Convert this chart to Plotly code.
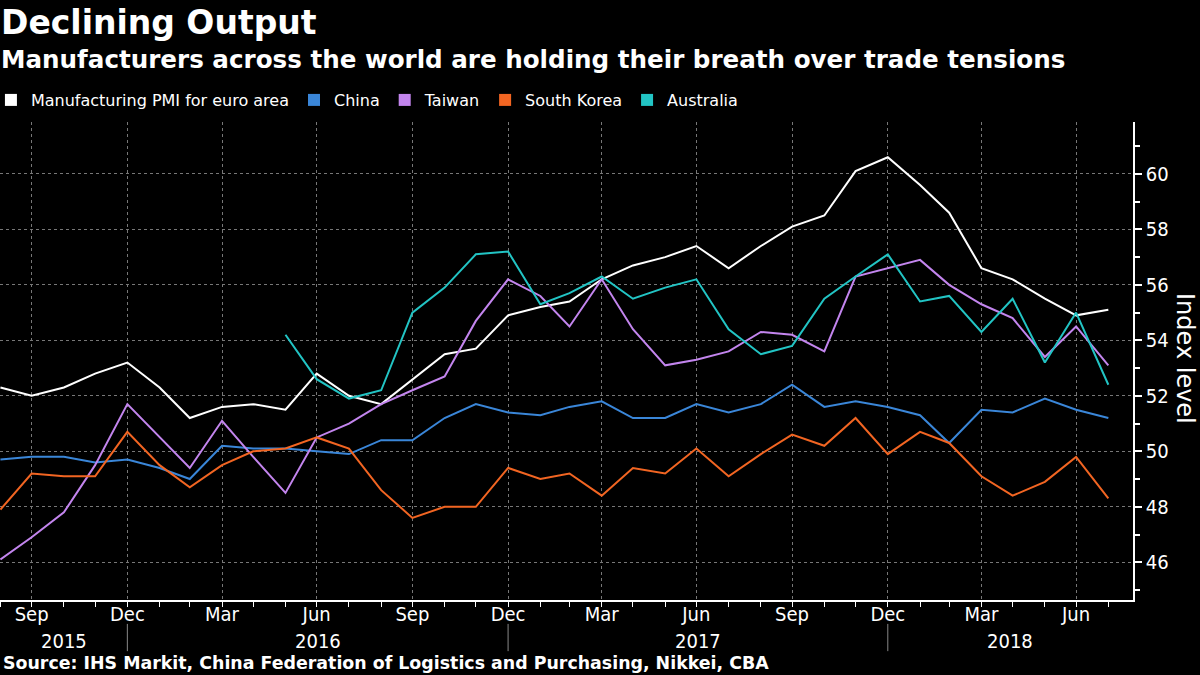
import pandas as pd
import plotly.graph_objects as go

# ---------------- data ----------------
months = pd.date_range("2015-08-31", "2018-07-31", freq="ME")

euro_area = [52.3, 52.0, 52.3, 52.8, 53.2,
             52.3, 51.2, 51.6, 51.7, 51.5, 52.8, 52.0, 51.7, 52.6, 53.5, 53.7, 54.9,
             55.2, 55.4, 56.2, 56.7, 57.0, 57.4, 56.6, 57.4, 58.1, 58.5, 60.1, 60.6,
             59.6, 58.6, 56.6, 56.2, 55.5, 54.9, 55.1]
china = [49.7, 49.8, 49.8, 49.6, 49.7,
         49.4, 49.0, 50.2, 50.1, 50.1, 50.0, 49.9, 50.4, 50.4, 51.2, 51.7, 51.4,
         51.3, 51.6, 51.8, 51.2, 51.2, 51.7, 51.4, 51.7, 52.4, 51.6, 51.8, 51.6,
         51.3, 50.3, 51.5, 51.4, 51.9, 51.5, 51.2]
taiwan = [46.1, 46.9, 47.8, 49.5, 51.7,
          50.5, 49.4, 51.1, 49.8, 48.5, 50.5, 51.0, 51.7, 52.2, 52.7, 54.7, 56.2,
          55.6, 54.5, 56.2, 54.4, 53.1, 53.3, 53.6, 54.3, 54.2, 53.6, 56.3, 56.6,
          56.9, 56.0, 55.3, 54.8, 53.4, 54.5, 53.1]
south_korea = [47.9, 49.2, 49.1, 49.1, 50.7,
               49.5, 48.7, 49.5, 50.0, 50.1, 50.5, 50.1, 48.6, 47.6, 48.0, 48.0, 49.4,
               49.0, 49.2, 48.4, 49.4, 49.2, 50.1, 49.1, 49.9, 50.6, 50.2, 51.2, 49.9,
               50.7, 50.3, 49.1, 48.4, 48.9, 49.8, 48.3]
australia = [None] * 9 + [54.2, 52.6, 51.9, 52.2, 55.0, 55.9, 57.1, 57.2,
                          55.3, 55.7, 56.3, 55.5, 55.9, 56.2, 54.4, 53.5, 53.8, 55.5, 56.3, 57.1,
                          55.4, 55.6, 54.3, 55.5, 53.2, 55.0, 52.4]

series_names = ["Manufacturing PMI for euro area", "China", "Taiwan", "South Korea", "Australia"]
series_values = [euro_area, china, taiwan, south_korea, australia]
series_colors = ["#ffffff", "#3a86d8", "#c385ee", "#f26522", "#22c4c4"]

quarter_ticks = ["2015-09-30", "2015-12-31", "2016-03-31", "2016-06-30", "2016-09-30",
                 "2016-12-31", "2017-03-31", "2017-06-30", "2017-09-30", "2017-12-31",
                 "2018-03-31", "2018-06-30"]
quarter_labels = ["Sep", "Dec", "Mar", "Jun", "Sep", "Dec", "Mar", "Jun", "Sep", "Dec", "Mar", "Jun"]
years = ["2015", "2016", "2017", "2018"]
year_bounds = ["2015-12-31", "2016-12-31", "2017-12-31"]
y_ticks = [46, 48, 50, 52, 54, 56, 58, 60]
y_minor = [45, 47, 49, 51, 53, 55, 57, 59, 61]

x_range = [pd.Timestamp("2015-08-30 14:00"), pd.Timestamp("2018-08-23 17:00")]
y_range = [44.64, 61.87]

# ---------------- figure ----------------
fig = go.Figure()
for name, vals, col in zip(series_names, series_values, series_colors):
    fig.add_trace(go.Scatter(x=months, y=vals, mode="lines", name=name,
                             line=dict(color=col, width=2), showlegend=False,
                             connectgaps=False))
# legend entries with square swatches
for name, col in zip(series_names, series_colors):
    fig.add_trace(go.Scatter(x=[None], y=[None], mode="markers", name=name,
                             marker=dict(symbol="square", size=12, color=col),
                             showlegend=True))

tick_font = dict(family="DejaVu Sans Condensed, DejaVu Sans, sans-serif", size=20, color="#ffffff")

fig.update_layout(
    width=1200, height=675,
    paper_bgcolor="#000000", plot_bgcolor="#000000",
    margin=dict(l=0, r=67, t=122, b=75, autoexpand=False),
    font=dict(family="DejaVu Sans, sans-serif", color="#ffffff"),
    showlegend=True,
    legend=dict(orientation="h", x=-0.008, xanchor="left", y=1.046, yanchor="middle",
                font=dict(family="DejaVu Sans, sans-serif", size=16, color="#ffffff"),
                bgcolor="rgba(0,0,0,0)", itemwidth=30, tracegroupgap=0),
    xaxis=dict(type="date", range=x_range,
               tickmode="array", tickvals=quarter_ticks, ticktext=quarter_labels,
               tickfont=tick_font, ticks="outside", ticklen=5, tickcolor="#ffffff",
               ticklabelstandoff=-10,
               showgrid=True, gridcolor="#777777", griddash="dot", gridwidth=1,
               showline=True, linecolor="#ffffff", linewidth=1.5, zeroline=False,
               minor=dict(tickmode="array", tickvals=list(months), ticks="outside",
                          ticklen=5, tickcolor="#ffffff", showgrid=False)),
    yaxis=dict(side="right", range=y_range, tickmode="array", tickvals=y_ticks,
               tickfont=tick_font, ticks="outside", ticklen=7, tickwidth=2, tickcolor="#ffffff",
               showgrid=True, gridcolor="#777777", griddash="dot", gridwidth=1,
               showline=True, linecolor="#ffffff", linewidth=1.5, zeroline=False,
               minor=dict(tickmode="array", tickvals=y_minor, ticks="outside",
                          ticklen=5, tickcolor="#ffffff", showgrid=False)),
)

# year labels centred in each year span
edges = [x_range[0]] + [pd.Timestamp(d) for d in year_bounds] + [x_range[1]]
for i, yr in enumerate(years):
    mid = edges[i] + (edges[i + 1] - edges[i]) / 2
    fig.add_annotation(x=mid, xref="x", y=-0.085, yref="paper", text=yr, showarrow=False,
                       font=tick_font, xanchor="center", yanchor="middle")
for d in year_bounds:
    fig.add_shape(type="line", xref="x", yref="paper", x0=d, x1=d, y0=-0.05, y1=-0.107,
                  line=dict(color="#888888", width=1))

# titles and source
fig.add_annotation(x=0, xref="paper", y=1.209, yref="paper", xshift=-1, text="<b>Declining Output</b>",
                   showarrow=False, xanchor="left", yanchor="middle",
                   font=dict(family="DejaVu Sans, sans-serif", size=33, color="#ffffff"))
fig.add_annotation(x=0, xref="paper", y=1.13, yref="paper", xshift=-1,
                   text="<b>Manufacturers across the world are holding their breath over trade tensions</b>",
                   showarrow=False, xanchor="left", yanchor="middle",
                   font=dict(family="DejaVu Sans, sans-serif", size=24.6, color="#ffffff"))
fig.add_annotation(x=0, xref="paper", y=-0.132, yref="paper", xshift=1,
                   text="<b>Source: IHS Markit, China Federation of Logistics and Purchasing, Nikkei, CBA</b>",
                   showarrow=False, xanchor="left", yanchor="middle",
                   font=dict(family="DejaVu Sans, sans-serif", size=17.4, color="#ffffff"))
fig.add_annotation(x=1.046, xref="paper", y=0.506, yref="paper", text="Index level",
                   textangle=90, showarrow=False, xanchor="center", yanchor="middle",
                   font=dict(family="DejaVu Sans, sans-serif", size=24, color="#ffffff"))

fig.write_html("out.html", config={"displayModeBar": False},
               post_script="document.body.style.margin='0px';document.body.style.padding='0px';")
